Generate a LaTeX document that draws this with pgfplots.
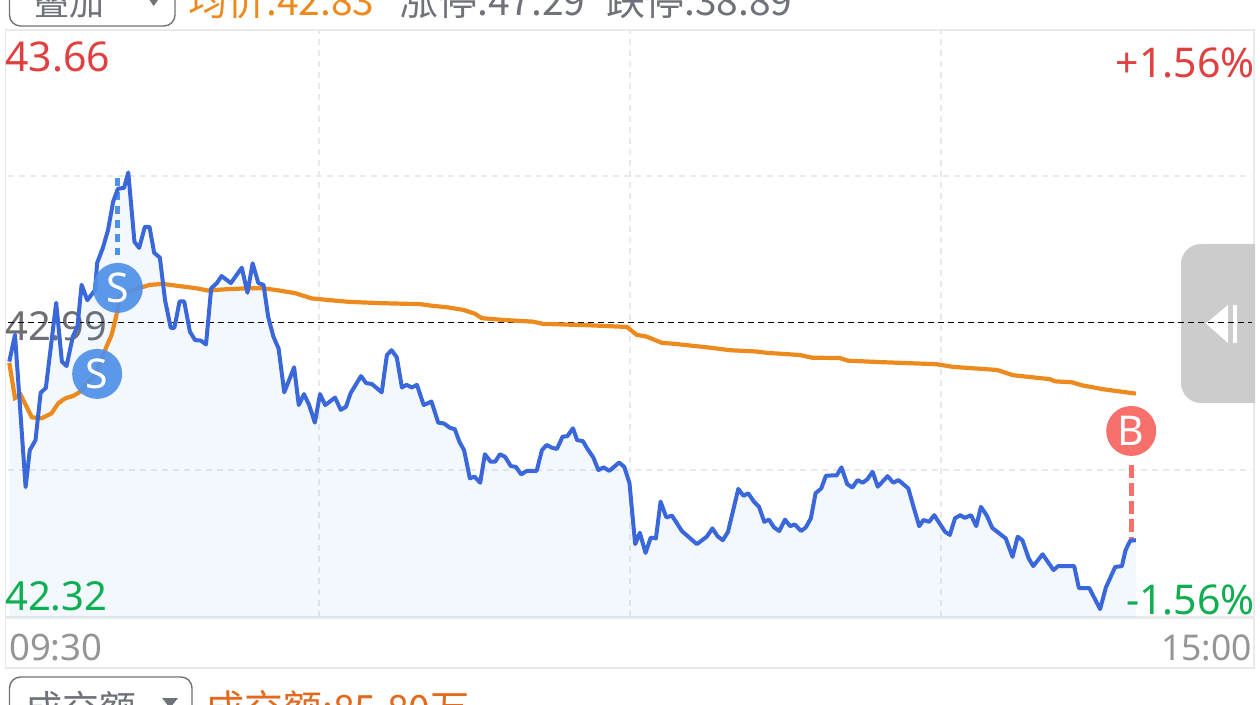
\documentclass[border=0pt]{standalone}
\usepackage{fontspec}
\setmainfont{Noto Sans}
\newfontfamily\cjk{Noto Sans CJK SC}
\usepackage{pgfplots}
\usepackage{pgfplotstable}
\pgfplotsset{compat=1.18}
\definecolor{cblue}{HTML}{3A68DA}
\definecolor{corange}{HTML}{EC8A1E}
\definecolor{cfill}{HTML}{4A96E6}
\definecolor{cgrid}{HTML}{E9E9EB}
\definecolor{cframe}{HTML}{E8E9EB}
\definecolor{cred}{HTML}{E04040}
\definecolor{cgreen}{HTML}{0FAE50}
\definecolor{cgray}{HTML}{6E6F74}
\definecolor{ctime}{HTML}{959595}
\definecolor{cs}{HTML}{4F90E8}
\definecolor{cb}{HTML}{F8706C}
\definecolor{chandle}{HTML}{CCCCCC}
\definecolor{ctop}{HTML}{6F7278}
\definecolor{cvol}{HTML}{E26A1E}
\newcommand{\fs}[1]{\fontsize{#1}{#1}\selectfont}
\pgfplotstableread{
m p
0.25 42.902
1.35 42.963
3.4 42.616
4.2 42.700
5.3 42.723
6.3 42.831
7.3 42.842
9.3 43.036
10.4 42.902
11.3 42.892
12.5 42.959
13.4 42.982
14.2 43.077
15.3 43.042
16.8 43.065
17.2 43.127
18.3 43.161
19.3 43.202
20.3 43.267
21.2 43.296
22.4 43.298
23.2 43.333
24.4 43.175
25.3 43.161
26.4 43.209
27.3 43.209
28.2 43.150
29.3 43.139
30.3 43.042
31.4 42.979
32.1 42.979
33.1 43.039
34.0 43.039
35.1 42.970
36.1 42.951
37.2 42.950
38.2 42.941
39.2 43.069
40.3 43.081
41.2 43.097
43.0 43.081
45.1 43.116
46.2 43.059
47.2 43.126
48.3 43.081
49.3 43.077
50.2 43.004
51.2 42.959
52.2 42.932
53.3 42.832
55.2 42.889
56.1 42.803
57.1 42.828
58.1 42.803
59.2 42.763
60.2 42.828
61.2 42.803
63.1 42.820
64.2 42.792
65.2 42.799
66.1 42.830
68.1 42.869
69.1 42.853
70.2 42.851
72.1 42.832
73.1 42.917
74.0 42.928
75.0 42.912
76.0 42.843
76.9 42.849
77.9 42.843
78.9 42.849
80.2 42.803
81.7 42.811
83.0 42.763
84.1 42.761
85.3 42.751
86.2 42.748
87.1 42.719
88.0 42.700
89.1 42.636
90.0 42.640
91.1 42.626
92.0 42.691
93.1 42.674
94.0 42.674
94.9 42.691
95.9 42.685
97.0 42.664
98.0 42.662
99.0 42.645
100.1 42.653
102.0 42.653
103.0 42.700
103.9 42.712
104.9 42.706
105.9 42.703
107.0 42.731
107.9 42.732
109.0 42.750
109.8 42.723
110.9 42.721
111.8 42.703
112.9 42.684
113.9 42.655
114.9 42.661
116.0 42.653
117.9 42.672
118.9 42.662
119.9 42.625
121.0 42.486
121.9 42.512
123.0 42.466
124.0 42.501
125.0 42.499
125.9 42.583
127.0 42.547
128.1 42.551
130.0 42.516
132.9 42.486
134.8 42.503
135.9 42.522
136.9 42.504
137.9 42.495
138.9 42.514
140.9 42.612
141.9 42.596
142.8 42.602
143.9 42.583
144.9 42.571
145.9 42.537
146.8 42.542
147.8 42.524
148.8 42.516
149.9 42.542
150.9 42.527
151.8 42.531
153.0 42.516
153.9 42.524
154.9 42.545
155.8 42.602
156.9 42.613
157.8 42.642
159.9 42.643
160.8 42.661
161.9 42.623
162.9 42.615
163.9 42.632
164.9 42.626
165.8 42.634
166.8 42.651
167.8 42.617
169.7 42.641
170.8 42.626
171.8 42.632
173.7 42.613
174.7 42.571
175.8 42.527
176.6 42.541
177.7 42.537
178.7 42.552
180.8 42.514
181.7 42.507
182.7 42.545
183.7 42.552
184.6 42.546
185.8 42.552
186.8 42.527
187.7 42.571
188.8 42.552
189.9 42.523
192.5 42.499
193.8 42.457
194.8 42.503
195.7 42.495
196.9 42.454
197.8 42.436
199.6 42.463
201.7 42.427
202.6 42.436
205.7 42.436
206.6 42.386
208.6 42.386
210.7 42.338
211.8 42.387
213.6 42.434
214.9 42.436
215.6 42.472
216.5 42.494
217.6 42.495
}\tblprice
\pgfplotstableread{
m p
0.25 42.899
1.35 42.819
2.45 42.826
4.6 42.775
6.5 42.773
8.4 42.784
9.7 42.807
11.0 42.818
12.6 42.824
13.9 42.833
16.8 42.871
19.0 42.936
20.0 42.963
21.0 43.012
21.5 43.050
24.1 43.065
27.4 43.077
29.9 43.079
33.8 43.073
36.4 43.069
38.6 43.064
42.2 43.067
46.1 43.069
49.2 43.069
51.8 43.065
55.4 43.058
58.6 43.046
62.1 43.042
66.0 43.038
72.4 43.035
79.5 43.033
82.0 43.029
84.6 43.026
87.8 43.020
90.1 43.011
91.4 43.001
95.5 42.997
101.3 42.993
103.2 42.988
111.7 42.985
119.4 42.981
121.3 42.963
123.2 42.959
126.1 42.945
129.0 42.942
136.0 42.933
139.3 42.928
144.4 42.925
146.4 42.922
152.8 42.917
155.1 42.911
160.5 42.910
162.1 42.904
170.2 42.900
179.2 42.896
182.3 42.890
190.8 42.883
193.9 42.871
201.0 42.862
202.0 42.857
205.2 42.855
207.2 42.848
211.3 42.839
217.6 42.829
}\tblavg
\begin{document}
\begin{tikzpicture}[x=1pt,y=1pt]
\path[use as bounding box,clip] (0,0) rectangle (1260,704);
\begin{scope}[y=-1pt,yshift=704pt]
% frame and controls
\draw[cframe,line width=1.5pt] (5.5,30) -- (1254,30) -- (1254,668) -- (5.5,668) -- cycle;
\draw[cframe,line width=3pt] (5.5,617.5) -- (1254,617.5);
\draw[ctop,line width=1.4pt,rounded corners=11pt] (9.5,-20) rectangle (175,26);
\node[anchor=base west,text=ctop,inner sep=0,font=\cjk\fs{35}] at (34,16) {叠加};
\fill[ctop] (149.5,0) -- (158,0) -- (153.7,6) -- cycle;
\node[anchor=base west,text=corange,inner sep=0,font=\cjk\fs{39}] at (188,16) {均价:42.83};
\node[anchor=base west,text=ctop,inner sep=0,font=\cjk\fs{39}] at (399,16) {涨停:47.29};
\node[anchor=base west,text=ctop,inner sep=0,font=\cjk\fs{39}] at (606,16) {跌停:38.89};
\draw[ctop,line width=1.4pt,rounded corners=11pt] (9.5,677) rectangle (192,740);
\node[anchor=base west,text=ctop,inner sep=0,font=\cjk\fs{37}] at (25,722) {成交额};
\fill[ctop] (162,698) -- (178,698) -- (170,708) -- cycle;
\node[anchor=base west,text=cvol,inner sep=0,font=\cjk\fs{39}] at (205,723) {成交额:85.80万};
\node[anchor=base west,text=cgray,inner sep=0,font=\fs{40}] at (5,341) {42.99};
\begin{scope}
\clip (1170,230) rectangle (1255,420);
\fill[chandle,rounded corners=20pt] (1181,244) rectangle (1290,403);
\end{scope}
\fill[white] (1206,323.5) -- (1228,305) -- (1228,343) -- cycle;
\fill[white] (1233,305) rectangle (1237,343);
\end{scope}
\begin{axis}[
  at={(8pt,87pt)},anchor=south west,
  scale only axis,width=1244pt,height=588pt,
  xmin=0,xmax=240,ymin=42.32,ymax=43.66,
  axis line style={draw=none},
  major tick length=0pt,
  xtick={60,120,180},ytick={42.655,43.325},
  xticklabels={},yticklabels={},
  grid=major,
  major grid style={cgrid,line width=1.3pt,dash pattern=on 6pt off 5pt},
  clip=false
]
\addplot[draw=none,fill=cfill,fill opacity=0.07] table[x=m,y=p] {\tblprice} \closedcycle;
\addplot[black,line width=1pt,dash pattern=on 6pt off 4pt] coordinates {(0,42.99) (240,42.99)};
\addplot[cs,line width=5pt,dash pattern=on 8pt off 6pt] coordinates {(21.2,43.321) (21.2,43.145)};
\addplot[cb,line width=5pt,dash pattern=on 13pt off 5pt] coordinates {(216.7,42.666) (216.7,42.495)};
\addplot[corange,line width=4.2pt] table[x=m,y=p] {\tblavg};
\addplot[cblue,line width=4pt,line join=round] table[x=m,y=p] {\tblprice};
\addplot[only marks,mark=*,mark size=25pt,
  mark options={draw=cs,draw opacity=0,fill=cs,fill opacity=0.92},
  nodes near coords={S},
  nodes near coords align={center},
  every node near coord/.append style={anchor=center,text=white,font=\fs{41},inner sep=0,text opacity=1}]
  coordinates {(21.2,43.07) (17.2,42.874)};
\addplot[only marks,mark=*,mark size=25pt,
  mark options={draw=cb,draw opacity=0,fill=cb},
  nodes near coords={B},
  nodes near coords align={center},
  every node near coord/.append style={anchor=center,text=white,font=\fs{41},inner sep=0}]
  coordinates {(216.7,42.744)};
\end{axis}
\begin{scope}[y=-1pt,yshift=704pt]
\node[anchor=base west,text=cred,inner sep=0,font=\fs{41}] at (5,72) {43.66};
\node[anchor=base west,text=cgreen,inner sep=0,font=\fs{40}] at (5,611) {42.32};
\node[anchor=base east,text=cred,inner sep=0,font=\fs{41}] at (1255,78) {+1.56\%};
\node[anchor=base east,text=cgreen,inner sep=0,font=\fs{41}] at (1255,614) {-1.56\%};
\node[anchor=base west,text=ctime,inner sep=0,font=\fs{36.5}] at (9,660) {09:30};
\node[anchor=base east,text=ctime,inner sep=0,font=\fs{35.5}] at (1252,660) {15:00};
\end{scope}
\end{tikzpicture}
\end{document}
